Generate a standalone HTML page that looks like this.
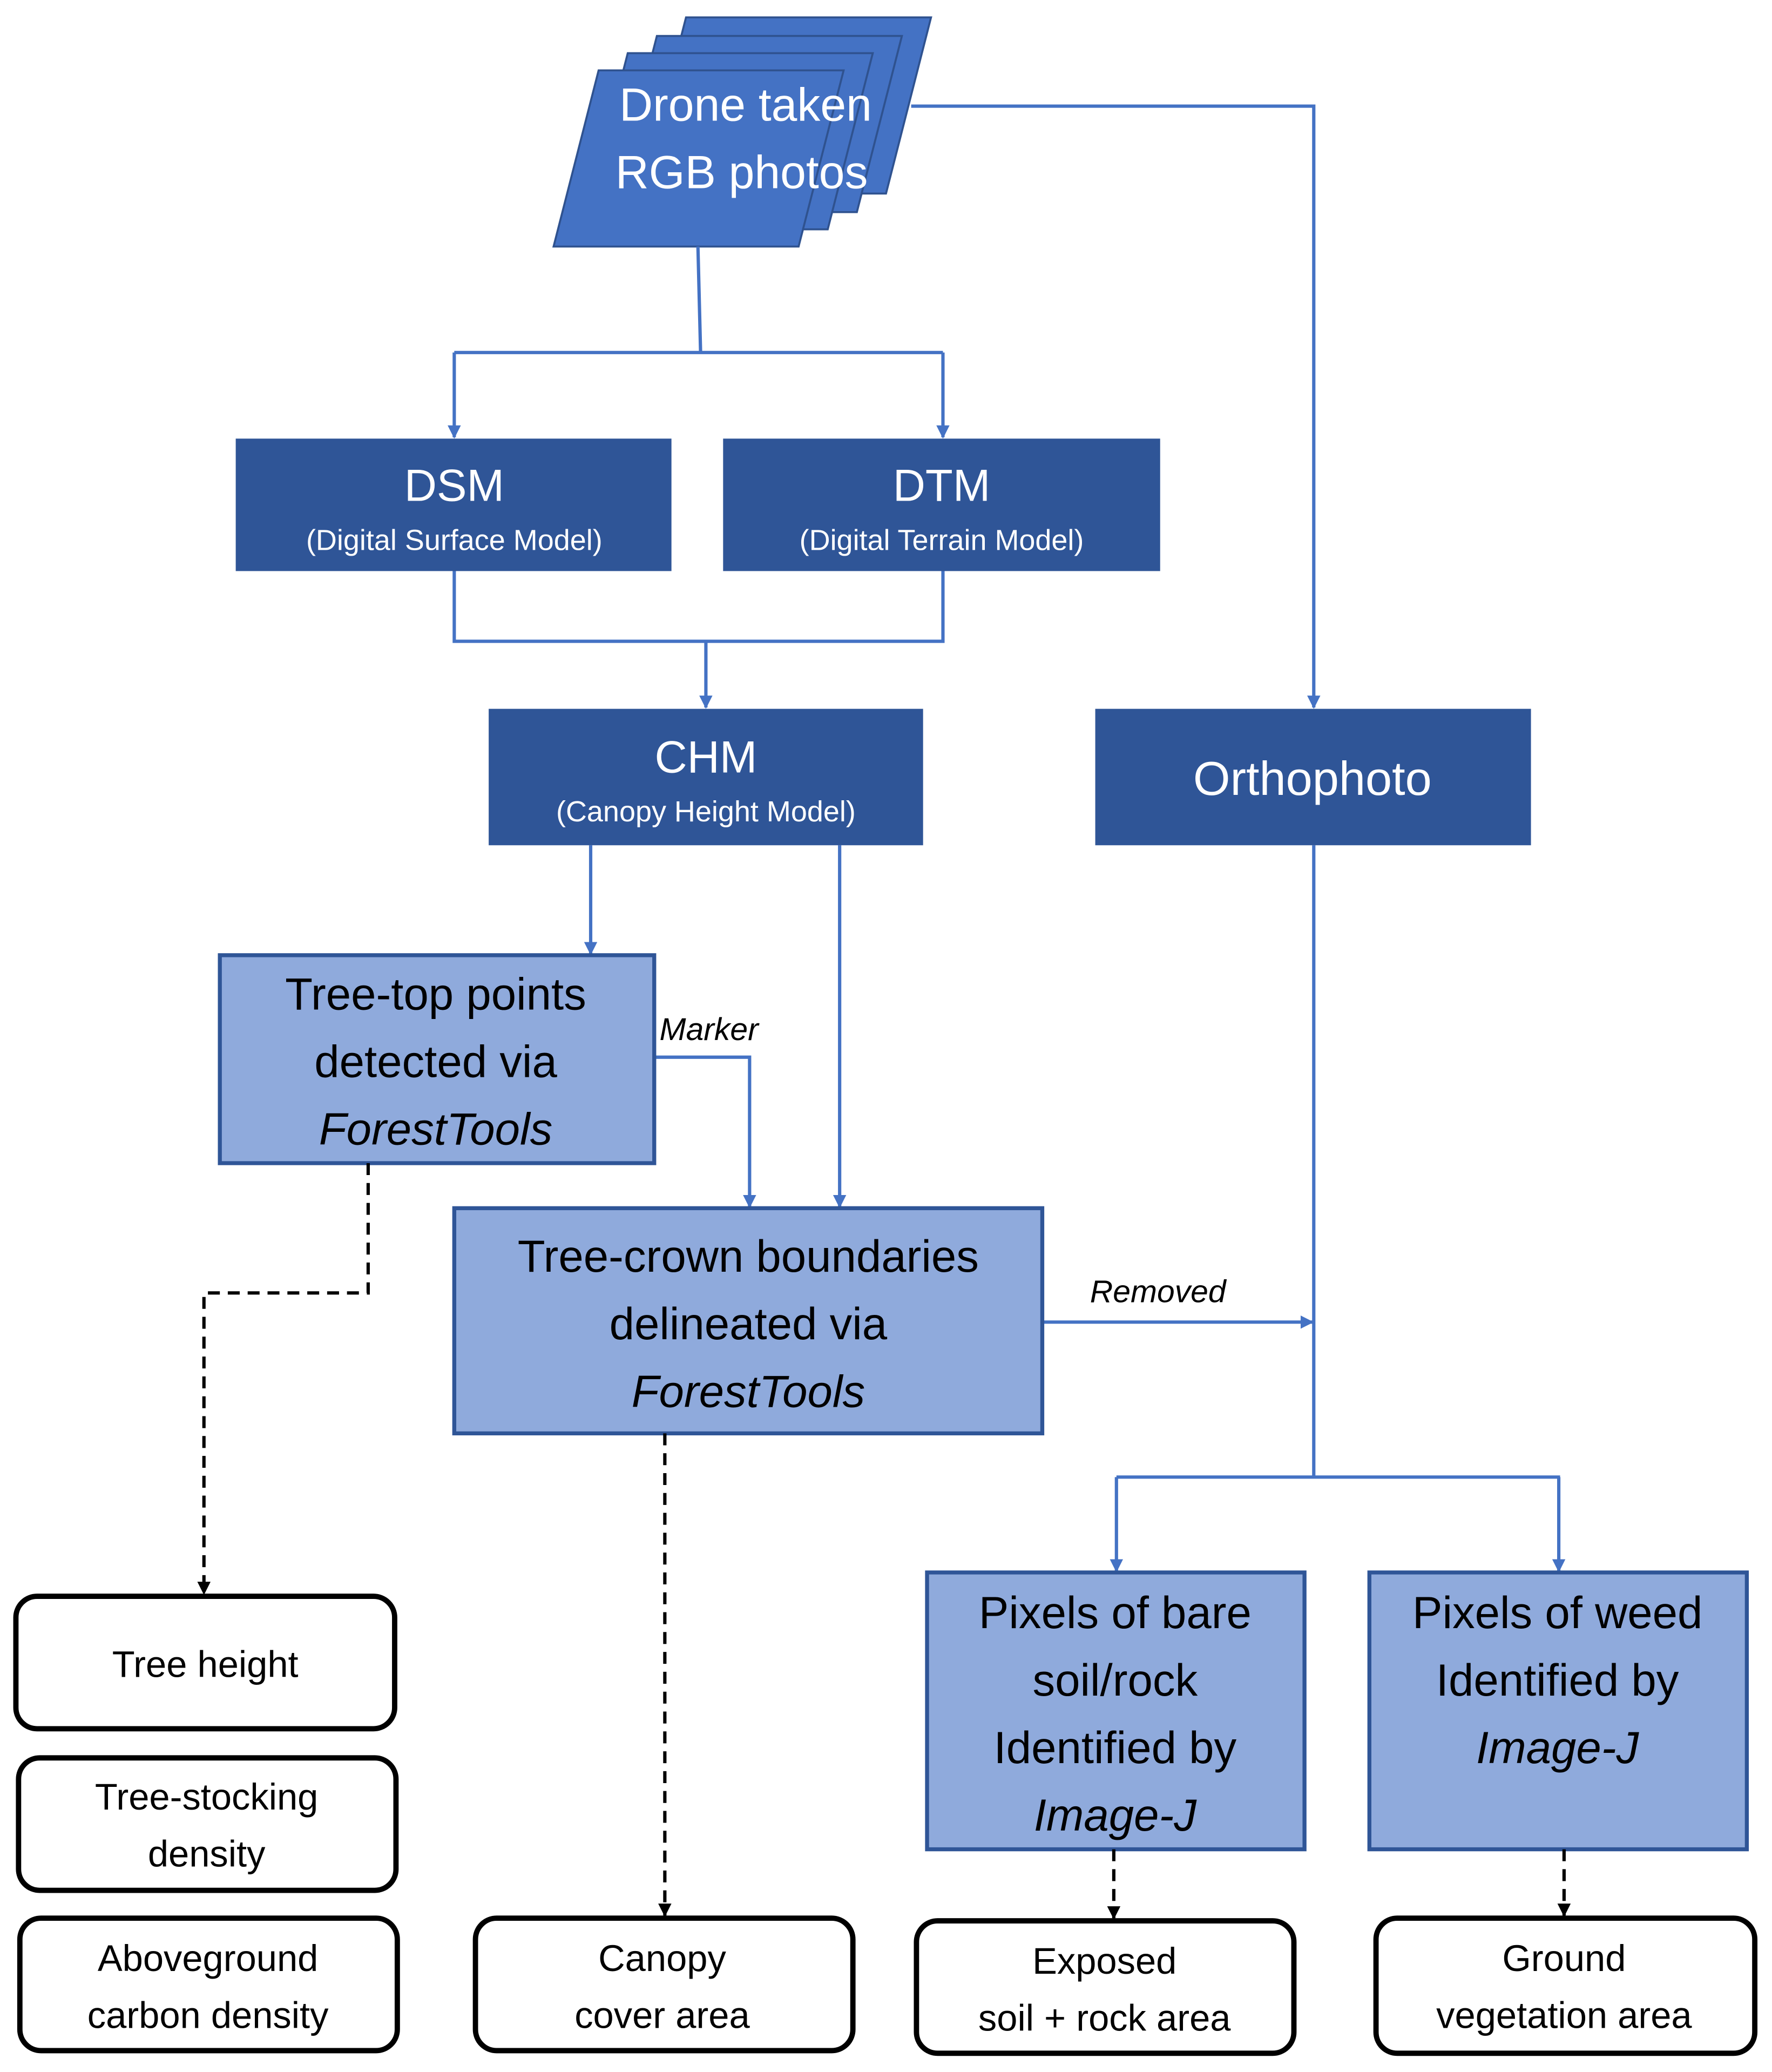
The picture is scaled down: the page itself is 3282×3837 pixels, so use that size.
<!DOCTYPE html>
<html><head><meta charset="utf-8"><style>html,body{margin:0;padding:0;background:#fff}svg{display:block}</style></head>
<body>
<svg width="3282" height="3837" viewBox="0 0 1338 1564" xmlns="http://www.w3.org/2000/svg" font-family="'Liberation Sans', sans-serif">
<defs>
<marker id="ab" markerWidth="10" markerHeight="10" refX="9" refY="5" orient="auto" markerUnits="userSpaceOnUse"><path d="M0,0 L10,5 L0,10 z" fill="#4472c4"/></marker>
<marker id="ak" markerWidth="10" markerHeight="10" refX="9" refY="5" orient="auto" markerUnits="userSpaceOnUse"><path d="M0,0 L10,5 L0,10 z" fill="#000"/></marker>
</defs>
<g fill="#4472c4" stroke="#2f528f" stroke-width="1.5">
<polygon points="518,13 703,13 669,146 484,146"/>
<polygon points="496,27 681,27 647,160 462,160"/>
<polygon points="474,40 659,40 625,173 440,173"/>
<polygon points="452,53 637,53 603,186 418,186"/>
</g>
<g fill="#fff" font-size="35" text-anchor="middle">
<text x="563" y="91">Drone taken</text>
<text x="560" y="142">RGB photos</text>
</g>
<g stroke="#4472c4" stroke-width="2.5" fill="none">
<path d="M527,186 L529,266"/>
<path d="M343,266 L712,266"/>
<path d="M343,266 L343,330" marker-end="url(#ab)"/>
<path d="M712,266 L712,330" marker-end="url(#ab)"/>
<path d="M688,80 L992,80 L992,534" marker-end="url(#ab)"/>
<path d="M343,431 L343,484 L712,484 L712,431"/>
<path d="M533,484 L533,534" marker-end="url(#ab)"/>
<path d="M446,638 L446,720" marker-end="url(#ab)"/>
<path d="M634,638 L634,911" marker-end="url(#ab)"/>
<path d="M494,798 L566,798 L566,911" marker-end="url(#ab)"/>
<path d="M787,998 L991,998" marker-end="url(#ab)"/>
<path d="M992,638 L992,1115"/>
<path d="M843,1115 L1178,1115"/>
<path d="M843,1115 L843,1186" marker-end="url(#ab)"/>
<path d="M1177,1115 L1177,1186" marker-end="url(#ab)"/>
</g>
<g fill="#2f5597">
<rect x="178" y="331" width="329" height="100"/>
<rect x="546" y="331" width="330" height="100"/>
<rect x="369" y="535" width="328" height="103"/>
<rect x="827" y="535" width="329" height="103"/>
</g>
<g fill="#fff" text-anchor="middle">
<text x="343" y="378" font-size="34">DSM</text>
<text x="343" y="415" font-size="22">(Digital Surface Model)</text>
<text x="711" y="378" font-size="34">DTM</text>
<text x="711" y="415" font-size="22">(Digital Terrain Model)</text>
<text x="533" y="583" font-size="34">CHM</text>
<text x="533" y="620" font-size="22">(Canopy Height Model)</text>
<text x="991" y="600" font-size="36">Orthophoto</text>
</g>
<g fill="#8faadc" stroke="#2f5597" stroke-width="3">
<rect x="166" y="721" width="328" height="157"/>
<rect x="343" y="912" width="444" height="170"/>
<rect x="700" y="1187" width="285" height="209"/>
<rect x="1034" y="1187" width="285" height="209"/>
</g>
<g fill="#000" text-anchor="middle" font-size="34">
<text x="329" y="762">Tree-top points</text>
<text x="329" y="813">detected via</text>
<text x="329" y="864" font-style="italic">ForestTools</text>
<text x="565" y="960">Tree-crown boundaries</text>
<text x="565" y="1011">delineated via</text>
<text x="565" y="1062" font-style="italic">ForestTools</text>
<text x="842" y="1229">Pixels of bare</text>
<text x="842" y="1280">soil/rock</text>
<text x="842" y="1331">Identified by</text>
<text x="842" y="1382" font-style="italic">Image-J</text>
<text x="1176" y="1229">Pixels of weed</text>
<text x="1176" y="1280">Identified by</text>
<text x="1176" y="1331" font-style="italic">Image-J</text>
</g>
<g fill="#000" font-style="italic" font-size="24">
<text x="498" y="785">Marker</text>
<text x="823" y="983">Removed</text>
</g>
<g stroke="#000" stroke-width="2.5" fill="none" stroke-dasharray="9,6">
<path d="M278,878 L278,976 L154,976 L154,1203" marker-end="url(#ak)"/>
<path d="M502,1082 L502,1446" marker-end="url(#ak)"/>
<path d="M841,1396 L841,1448" marker-end="url(#ak)"/>
<path d="M1181,1396 L1181,1446" marker-end="url(#ak)"/>
</g>
<g fill="#fff" stroke="#000" stroke-width="4">
<rect x="12" y="1205" width="286" height="100" rx="16"/>
<rect x="14" y="1327" width="285" height="100" rx="16"/>
<rect x="15" y="1448" width="285" height="100" rx="16"/>
<rect x="359" y="1448" width="285" height="100" rx="16"/>
<rect x="692" y="1450" width="285" height="100" rx="16"/>
<rect x="1039" y="1448" width="286" height="102" rx="16"/>
</g>
<g fill="#000" text-anchor="middle" font-size="28">
<text x="155" y="1266">Tree height</text>
<text x="156" y="1366">Tree-stocking</text>
<text x="156" y="1409">density</text>
<text x="157" y="1488">Aboveground</text>
<text x="157" y="1531">carbon density</text>
<text x="500" y="1488">Canopy</text>
<text x="500" y="1531">cover area</text>
<text x="834" y="1490">Exposed</text>
<text x="834" y="1533">soil + rock area</text>
<text x="1181" y="1488">Ground</text>
<text x="1181" y="1531">vegetation area</text>
</g>
</svg>
</body></html>
